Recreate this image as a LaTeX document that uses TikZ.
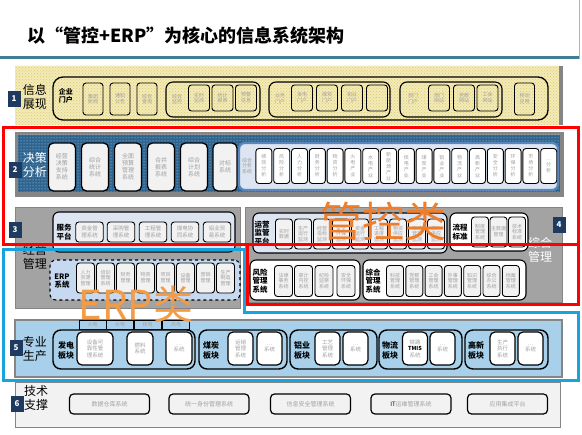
\documentclass[tikz,border=0pt]{standalone}
\usepackage{fontspec}
\setmainfont{Noto Sans CJK SC}
\usetikzlibrary{patterns}
\definecolor{Teal}{HTML}{3F7F95}
\definecolor{Navy}{HTML}{1F3A60}
\definecolor{Butter}{HTML}{F3EBB8}
\definecolor{ButterDot}{HTML}{DCC86A}
\definecolor{Ocean}{HTML}{2E6490}
\definecolor{Slate}{HTML}{A3A3A3}
\definecolor{Shade}{HTML}{858585}
\definecolor{Frost}{HTML}{DCE5F1}
\definecolor{Ice}{HTML}{C6D9F0}
\definecolor{Sky}{HTML}{A8D0EA}
\definecolor{Cloud}{HTML}{F2F2F2}
\definecolor{Ink}{HTML}{A0A0A0}
\definecolor{Alert}{HTML}{FF0000}
\definecolor{Aqua}{HTML}{19A3DD}
\definecolor{Flame}{HTML}{EE7D2C}
\definecolor{Amber}{HTML}{F39C45}
\definecolor{Steel}{HTML}{5B86BC}
\tikzset{
  badge/.style={fill=Navy, text=white, font=\bfseries\fontsize{8}{8}\selectfont, minimum width=13pt, minimum height=16pt, inner sep=0pt},
  tier/.style={font=\fontsize{12}{14}\selectfont, align=center, inner sep=0pt},
  appbox/.style={draw=black, line width=0.9pt, rounded corners=3pt, fill=Cloud, text=Ink, font=\fontsize{5}{5.8}\selectfont, align=center, inner sep=0pt},
  openbox/.style={appbox, fill=none},
  group/.style={draw=black, line width=1.1pt, rounded corners=6pt, inner sep=0pt},
  grouptag/.style={font=\bfseries\fontsize{7.5}{8.5}\selectfont, align=center, inner sep=0pt},
  faint/.style={text=Ink, font=\fontsize{5}{5.8}\selectfont, align=center, inner sep=0pt},
  bigmark/.style={text=Flame, font=\fontsize{40}{40}\selectfont, inner sep=0pt}
}
\begin{document}
\begin{tikzpicture}[x=1pt, y=-1pt]
  \useasboundingbox (0,0) rectangle (582,435);
  % title
  \node[anchor=west, font=\bfseries\fontsize{18}{18}\selectfont, inner sep=0pt] (title) at (27,36) {以“管控+ERP”为核心的信息系统架构};
  \draw[Teal, line width=3pt] (0,58) -- (579,58);
  \draw[gray!60, line width=0.6pt] (579.5,0) -- (579.5,59);

  % layer 1
  \fill[Shade] (15,66) rectangle (563,125);
  \fill[Butter] (15,66) rectangle (559,125);
  \fill[pattern=crosshatch dots, pattern color=ButterDot] (15,66) rectangle (559,125);
  \node[badge] (n1) at (14,99) {1};
  \node[tier] (t1) at (35,97) {信息\\展现};
  \node[group, line width=1.3pt, rounded corners=10pt, minimum width=495pt, minimum height=43pt] (portal) at (300.5,98.5) {};
  \node[grouptag, font=\bfseries\fontsize{7}{8}\selectfont] (entry) at (66,96) {企业\\门户};
  \foreach \cx/\t [count=\i] in {93/{集团\\新闻},120/{通知\\公告},147/{综合\\查询},524.5/{移动\\应用}}
    \node[openbox, minimum width=20pt, minimum height=32pt] (p\i) at (\cx,99) {\t};
  \node[group, rounded corners=7pt, minimum width=94pt, minimum height=35pt] (pa) at (213,99.5) {};
  \node[faint] (pat) at (177,99) {综合\\监控};
  \foreach \cx/\t [count=\i] in {199/{实时\\监测},222.5/{统计\\报表},246/{预警\\信息}}
    \node[openbox, minimum width=21pt, minimum height=26pt] (pa\i) at (\cx,98) {\t};
  \node[group, rounded corners=7pt, minimum width=121pt, minimum height=35pt] (pb) at (329.5,99.5) {};
  \node[faint] (pbt) at (280,99) {业务\\门户};
  \foreach \cx/\t [count=\i] in {302/{发电\\门户},327/{煤炭\\门户},352/{铝业\\门户},377/{…}}
    \node[openbox, minimum width=21pt, minimum height=26pt] (pb\i) at (\cx,98) {\t};
  \node[group, rounded corners=7pt, minimum width=102pt, minimum height=35pt] (pc) at (451,99.5) {};
  \node[faint] (pct) at (413,99) {部门\\门户};
  \foreach \cx/\t [count=\i] in {439/{部门\\网站},464/{党群\\网站},487.5/{工会\\网站}}
    \node[openbox, minimum width=21pt, minimum height=26pt] (pc\i) at (\cx,98) {\t};

  % layer 2
  \fill[Shade] (15,132) rectangle (564,197);
  \fill[Ocean] (18,135) rectangle (560,192);
  \fill[pattern=dots, pattern color=white!75!Ocean] (18,135) rectangle (560,192);
  \node[badge] (n2) at (15,170) {2};
  \node[tier, text=white] (t2) at (35,165) {决策\\分析};
  \foreach \cx/\bw/\t [count=\i] in {62/27pt/{经营\\决策\\支持\\系统},95/27pt/{综合\\统计\\系统},128/27pt/{全面\\预算\\管理\\系统},161/27pt/{合并\\报表\\系统},194/27pt/{综合\\计划\\系统},225/24pt/{对标\\系统}}
    \node[appbox, line width=1.3pt, rounded corners=5pt, minimum width=\bw, minimum height=48pt, font=\fontsize{6}{7}\selectfont] (d\i) at (\cx,167) {\t};
  \node[draw=Steel, line width=2.2pt, fill=Frost, rounded corners=6pt, minimum width=319pt, minimum height=47pt] (ana) at (398.5,166.5) {};
  \node[faint] (anat) at (247,166) {综合\\分析\\系统};
  \foreach \t [count=\i] in {{绩\\效\\分\\析},{风\\险\\分\\析},{人\\力\\分\\析},{财\\务\\分\\析},{物\\资\\分\\析},{火\\电\\产\\业},{水\\电\\产\\业},{新\\能\\源\\产\\业},{核\\电\\产\\业},{煤\\炭\\产\\业},{铝\\业\\产\\业},{物\\流\\产\\业},{高\\新\\产\\业},{安\\全\\分\\析},{环\\保\\分\\析},{市\\场\\分\\析},{…\\分\\析}}
    \node[appbox, fill=white, minimum width=16pt, minimum height=35pt, font=\fontsize{5}{6}\selectfont] (a\i) at ({263.9+17.8*(\i-1)},166) {\t};

  % layer 3
  \draw[Shade, fill=Slate] (15,207) rectangle (240,308);
  \node[badge] (n3) at (15,230) {3};
  \node[tier] (t3) at (35,257) {经营\\管理};
  \node[group, fill=Frost, minimum width=182pt, minimum height=40pt] (svc) at (144,232) {};
  \node[grouptag] (svct) at (64,232) {服务\\平台};
  \foreach \cx/\t [count=\i] in {89.5/{资金管\\理系统},121/{采购管\\理系统},153/{工程管\\理系统},185/{煤电协\\同系统},217/{铝业贸\\易系统}}
    \node[appbox, minimum width=27.5pt, minimum height=20pt, font=\fontsize{5.5}{6.3}\selectfont] (s\i) at (\cx,232) {\t};
  \node[group, dashed, fill=Ice, minimum width=190pt, minimum height=40pt] (erp) at (145,280) {};
  \node[grouptag] (erpt) at (62,281) {ERP\\系统};
  \foreach \t [count=\i] in {{人力\\资源\\管理},{培训\\管理\\系统},{财务\\管理},{物资\\管理},{项目\\管理},{设备\\管理},{营销\\管理},{生产\\制造\\管理}}
    \node[appbox, minimum width=18pt, minimum height=30pt] (e\i) at ({85.5+20*(\i-1)},278) {\t};

  % layer 4
  \draw[Shade, fill=Slate] (245,207) rectangle (562,302);
  \node[badge] (n4) at (559,225) {4};
  \node[tier, text=white] (t4) at (540,250) {综合\\管理};
  \node[group, fill=Frost, minimum width=194pt, minimum height=40pt] (mon) at (350,233) {};
  \node[grouptag] (mont) at (262,233) {运营\\监管\\平台};
  \foreach \t [count=\i] in {{实时\\数据},{生产\\运行\\监测},{经营\\指标\\监测},{安全\\环保\\监测},{资金\\运行\\监测},{工程\\进度\\监测},{物资\\供应\\监测},{市场\\营销\\监测},{燃料\\供应\\监测}}
    \node[appbox, minimum width=17pt, minimum height=30pt] (m\i) at ({284+19*(\i-1)},234) {\t};
  \node[group, fill=white, minimum width=78pt, minimum height=38pt] (flow) at (489,232) {};
  \node[grouptag] (flowt) at (460,232) {流程\\标准};
  \foreach \cx/\t [count=\i] in {480/{制度\\管理\\系统},498.5/{主数据\\管理},517/{技术\\标准\\系统}}
    \node[appbox, minimum width=17pt, minimum height=30pt] (f\i) at (\cx,232) {\t};
  \node[group, fill=white, minimum width=110pt, minimum height=40pt] (risk) at (305,280) {};
  \node[grouptag] (riskt) at (260,281) {风险\\管理\\系统};
  \foreach \cx/\t [count=\i] in {283.5/{法律\\事务\\系统},303.5/{审计\\内控\\系统},324/{纪检\\监察\\系统},346/{安全\\环保\\系统}}
    \node[appbox, minimum width=18pt, minimum height=31pt] (r\i) at (\cx,281) {\t};
  \node[group, fill=white, minimum width=163pt, minimum height=40pt] (gen) at (444.5,280) {};
  \node[grouptag] (gent) at (373,281) {综合\\管理\\系统};
  \foreach \t [count=\i] in {{科技\\管理\\系统},{党群\\管理\\系统},{工会\\管理\\系统},{外事\\管理\\系统},{知识\\管理\\系统},{综合\\办公\\系统},{档案\\管理\\系统}}
    \node[appbox, minimum width=17pt, minimum height=31pt] (g\i) at ({395+19.3*(\i-1)},281) {\t};

  % layer 5
  \draw[Shade, line width=1.5pt, fill=Sky] (15,320) rectangle (562,377);
  \node[badge] (n5) at (16,348) {5};
  \node[tier] (t5) at (35,349) {专业\\生产};
  \foreach \cx/\t [count=\i] in {92.5/火电,120/水电,147.5/核电,176/风电}
    \node[draw=black, line width=0.6pt, fill=Sky, minimum width=27pt, minimum height=9pt, text=Ink, font=\fontsize{5}{5}\selectfont, inner sep=0pt] (tab\i) at (\cx,325) {\t};
  \foreach \cx/\bw/\lx/\t [count=\i] in {124/142pt/66/{发电\\板块},243/88pt/211/{煤炭\\板块},333.5/87pt/302/{铝业\\板块},420.5/83pt/390/{物流\\板块},506.5/83pt/476/{高新\\板块}}
  {
    \node[group, line width=1.4pt, rounded corners=8pt, fill=Sky, minimum width=\bw, minimum height=39pt] (sec\i) at (\cx,349.5) {};
    \node[grouptag, font=\bfseries\fontsize{8}{10}\selectfont] (sect\i) at (\lx,350) {\t};
  }
  \foreach \cx/\bw/\t [count=\i] in {95/36pt/{设备可\\靠性管\\理系统},140/26pt/{燃料\\系统},179/26pt/{…\\系统},240.5/25pt/{运销\\管理\\系统},269.5/25pt/{…\\系统},327.5/25pt/{工艺\\管理\\系统},355.5/25pt/{…\\系统},415/25pt/{铁路\\\textcolor{black}{\bfseries TMIS}\\系统},442.5/25pt/{…\\系统},502.5/25pt/{生产\\执行\\系统},530.5/25pt/{…\\系统}}
    \node[appbox, fill=white, line width=1.2pt, rounded corners=5pt, minimum width=\bw, minimum height=33pt, font=\fontsize{5.5}{6.5}\selectfont] (u\i) at (\cx,348.5) {\t};

  % layer 6
  \draw[Shade, line width=1pt, fill=Cloud] (15,383) rectangle (560,428);
  \node[badge] (n6) at (17,404) {6};
  \node[tier] (t6) at (36,398) {技术\\支撑};
  \foreach \cx/\t [count=\i] in {109.5/数据仓库系统,209/统一身份管理系统,310.5/信息安全管理系统,411/{\textcolor{black}{IT}运维管理系统},507.5/应用集成平台}
    \node[appbox, line width=1.2pt, rounded corners=4pt, minimum width=80pt, minimum height=20pt, font=\fontsize{6}{6}\selectfont] (b\i) at (\cx,404) {\t};

  % class frames
  \draw[Alert, line width=3pt] (3,128) -- (578,128) -- (578,305) -- (247,305) -- (247,245) -- (3,245) -- cycle;
  \draw[Alert, line width=3pt] (247,245) -- (578,245);
  \draw[Aqua, line width=3pt] (3,250) -- (244,250) -- (244,313) -- (578,313) -- (578,381) -- (3,381) -- cycle;
  \node[bigmark, font=\fontsize{42}{42}\selectfont] (ctrl) at (383,221) {管控类};
  \node[bigmark, text=Amber] (erpmark) at (136,304) {ERP类};
\end{tikzpicture}
\end{document}
